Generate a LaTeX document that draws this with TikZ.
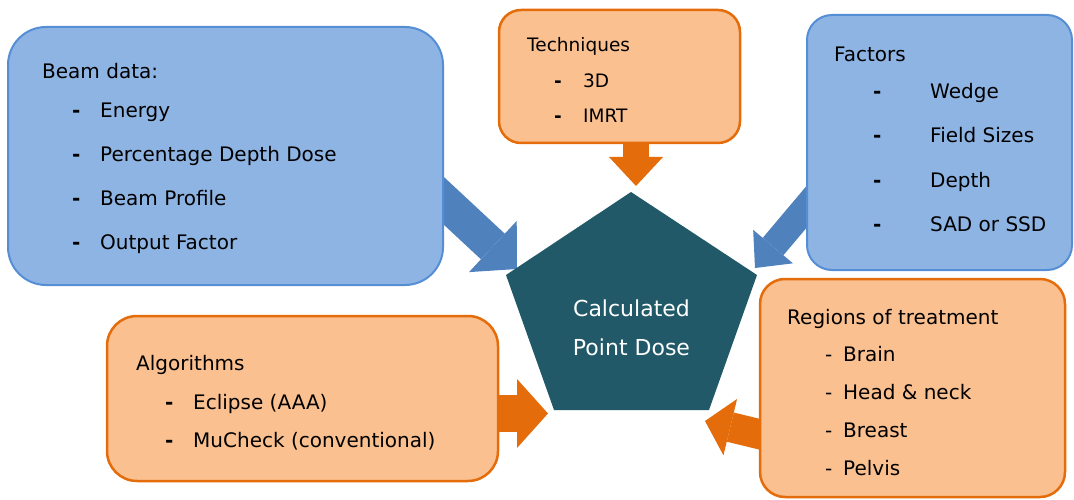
\documentclass[tikz,border=0pt]{standalone}
\usepackage{fontspec}
\setmainfont{DejaVu Sans}
\usepackage{xcolor}
\usetikzlibrary{arrows.meta,positioning,calc}
\definecolor{boxblue}{HTML}{8EB4E3}
\definecolor{lineblue}{HTML}{558ED5}
\definecolor{arrowblue}{HTML}{4F81BD}
\definecolor{boxorange}{HTML}{FAC090}
\definecolor{lineorange}{HTML}{E46C0A}
\definecolor{dosefill}{HTML}{215968}
\pgfdeclarelayer{bg}
\pgfsetlayers{bg,main}

\begin{document}
\begin{tikzpicture}[
  x=1pt, y=-1pt,
  bluebox/.style={draw=lineblue, fill=boxblue, line width=2pt},
  orangebox/.style={draw=lineorange, fill=boxorange, line width=2.5pt},
  lab/.style={anchor=base west, inner sep=0pt, font=\fontsize{20}{24}\selectfont},
  smalllab/.style={lab, font=\fontsize{18.5}{22}\selectfont},
  dosetxt/.style={anchor=base, inner sep=0pt, text=white, font=\fontsize{22}{26}\selectfont},
  bluearr/.style={draw=arrowblue, fill=arrowblue},
  orangearr/.style={draw=lineorange, fill=lineorange}
]
\useasboundingbox (0,0) rectangle (1074,500);

% ===== BOXES =====
\node[bluebox, rounded corners=38pt, minimum width=435pt, minimum height=258pt] (beam_box) at (225.5,156) {};
\node[orangebox, rounded corners=22pt, minimum width=241pt, minimum height=133pt] (tech_box) at (619.5,76.5) {};
\node[bluebox, rounded corners=25pt, minimum width=265pt, minimum height=255pt] (fact_box) at (939.5,142.5) {};
\node[orangebox, rounded corners=30pt, minimum width=391pt, minimum height=165pt] (algo_box) at (302.5,398.5) {};
\node[orangebox, rounded corners=25pt, minimum width=305pt, minimum height=218pt] (reg_box) at (912.5,388) {};

% ===== BEAM DATA =====
\node[lab] (beam_title) at (42,79) {Beam data:};
\foreach \txt [count=\i] in {Energy, Percentage Depth Dose, Beam Profile, Output Factor} {
  \node[lab] (beam_dash\i) at (72,74.3+43.7*\i) {\textbf{-}};
  \node[lab] (beam_item\i) at (100,74.3+43.7*\i) {\txt};
}

% ===== TECHNIQUES =====
\node[smalllab] (tech_title) at (527,52) {Techniques};
\foreach \txt [count=\i] in {3D, IMRT} {
  \node[smalllab] (tech_dash\i) at (554,53+35*\i) {\textbf{-}};
  \node[smalllab] (tech_item\i) at (583,53+35*\i) {\txt};
}

% ===== FACTORS =====
\node[lab] (fact_title) at (834,62) {Factors};
\foreach \txt [count=\i] in {Wedge, Field Sizes, Depth, SAD or SSD} {
  \node[lab] (fact_dash\i) at (873,55+44*\i) {\textbf{-}};
  \node[lab] (fact_item\i) at (930,55+44*\i) {\txt};
}

% ===== ALGORITHMS =====
\node[lab] (algo_title) at (136,370) {Algorithms};
\foreach \txt [count=\i] in {Eclipse (AAA), MuCheck (conventional)} {
  \node[lab] (algo_dash\i) at (165,371+38*\i) {\textbf{-}};
  \node[lab] (algo_item\i) at (193,371+38*\i) {\txt};
}

% ===== REGIONS =====
\node[lab] (reg_title) at (787,324) {Regions of treatment};
\foreach \txt [count=\i] in {Brain, Head \& neck, Breast, Pelvis} {
  \node[lab] (reg_dash\i) at (825,324+37.8*\i) {-};
  \node[lab] (reg_item\i) at (843,324+37.8*\i) {\txt};
}

% ===== POINT DOSE =====
\coordinate (p_top) at (631,192);
\coordinate (p_right) at (757,275);
\coordinate (p_br) at (709,410);
\coordinate (p_bl) at (554,410);
\coordinate (p_left) at (506,275);
\fill[dosefill] (p_top) -- (p_right) -- (p_br) -- (p_bl) -- (p_left) -- cycle;
\node[dosetxt] (dose_a) at (631.5,316) {Calculated};
\node[dosetxt] (dose_b) at (631.5,355) {Point Dose};

% ===== ARROWS =====
\coordinate (beam_out) at (400,160);
\coordinate (beam_tip) at (517,269);
\coordinate (tech_out) at (636,120);
\coordinate (tech_tip) at (636,186);
\coordinate (fact_out) at (830,179);
\coordinate (fact_tip) at (755,268);
\coordinate (algo_out) at (470,413.5);
\coordinate (algo_tip) at (548,413.5);
\coordinate (reg_out) at (787.5,441);
\coordinate (reg_tip) at (705,421);

\begin{pgfonlayer}{bg}
\draw[bluearr, line width=35pt, -{Triangle[length=33pt,width=70pt,line width=0pt]}] (beam_out) -- (beam_tip);
\draw[orangearr, line width=26pt, -{Triangle[length=29pt,width=54pt,line width=0pt]}] (tech_out) -- (tech_tip);
\draw[bluearr, line width=27pt, -{Triangle[length=28pt,width=52pt,line width=0pt]}] (fact_out) -- (fact_tip);
\draw[orangearr, line width=37pt, -{Triangle[length=31pt,width=69pt,line width=0pt]}] (algo_out) -- (algo_tip);
\draw[orangearr, line width=30pt, -{Triangle[length=26pt,width=58pt,line width=0pt]}] (reg_out) -- (reg_tip);
\end{pgfonlayer}

\end{tikzpicture}
\end{document}
